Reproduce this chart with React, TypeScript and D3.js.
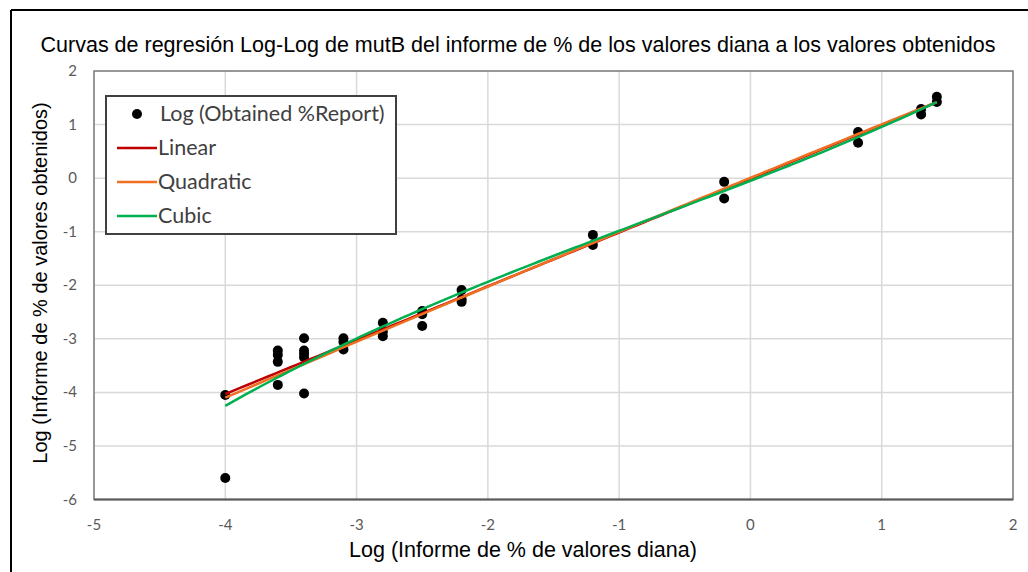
import React from "react";
import * as d3 from "d3";

const title = "Curvas de regresión Log-Log de mutB del informe de % de los valores diana a los valores obtenidos";
const xTitle = "Log (Informe de % de valores diana)";
const yTitle = "Log (Informe de % de valores obtenidos)";

const xTicks = [-5, -4, -3, -2, -1, 0, 1, 2];
const yTicks = [2, 1, 0, -1, -2, -3, -4, -5, -6];

const obsX = [
  -4, -4,
  -3.6, -3.6, -3.6, -3.6,
  -3.4, -3.4, -3.4, -3.4, -3.4,
  -3.1, -3.1, -3.1,
  -2.8, -2.8, -2.8,
  -2.5, -2.5, -2.5,
  -2.2, -2.2, -2.2,
  -1.2, -1.2,
  -0.2, -0.2,
  0.82, 0.82,
  1.3, 1.3,
  1.42, 1.42,
];
const obsY = [
  -4.05, -5.6,
  -3.22, -3.3, -3.43, -3.86,
  -2.99, -3.22, -3.28, -3.35, -4.02,
  -2.99, -3.06, -3.2,
  -2.7, -2.87, -2.95,
  -2.48, -2.54, -2.76,
  -2.09, -2.26, -2.31,
  -1.06, -1.25,
  -0.07, -0.38,
  0.86, 0.66,
  1.29, 1.19,
  1.52, 1.42,
];

// Fitted curves (polynomial coefficients c0 + c1 x + c2 x^2 + c3 x^3)
const seriesNames = ["Linear", "Quadratic", "Cubic"];
const linearCoef = [-0.01, 1.005];
const quadraticCoef = [0.005, 1.004, -0.0055];
const cubicCoef = [-0.05, 0.955, 0.0358, 0.0149];
const seriesColors = ["#c00000", "#f07022", "#00b050"];
const fitRange = [-4, 1.42];

export default function App() {
  const W = 1028, H = 572;
  const left = 94, right = 1013, top = 71, bottom = 499.5;
  const x = d3.scaleLinear().domain([-5, 2]).range([left, right]);
  const y = d3.scaleLinear().domain([-6, 2]).range([bottom, top]);

  const samples = d3.range(0, 101).map((i) => fitRange[0] + ((fitRange[1] - fitRange[0]) * i) / 100);
  const line = d3.line<[number, number]>().x((d) => x(d[0])).y((d) => y(d[1]));

  const curves = [linearCoef, quadraticCoef, cubicCoef].map((c) =>
    samples.map((sx) => [sx, c.reduce((s, ci, i) => s + ci * Math.pow(sx, i), 0)] as [number, number])
  );

  const tickFont = "Lato, 'Open Sans', sans-serif";
  const armFont = "'Liberation Sans', Arial, sans-serif";

  return (
    <svg width={W} height={H} style={{ position: "absolute", left: 0, top: 0, background: "#fff" }}>
      <rect x={0} y={0} width={W} height={H} fill="#fff" />
      <line x1={11} y1={10} x2={W} y2={10} stroke="#000" strokeWidth={2} />
      <line x1={11} y1={10} x2={11} y2={H} stroke="#000" strokeWidth={2} />

      <text x={518} y={52} textAnchor="middle" fontFamily={armFont} fontSize={21.5} fill="#000">
        {title}
      </text>

      {xTicks.map((t) => (
        <line key={"gx" + t} x1={x(t)} x2={x(t)} y1={top} y2={bottom} stroke="#d9d9d9" strokeWidth={1.5} />
      ))}
      {yTicks.map((t) => (
        <line key={"gy" + t} x1={left} x2={right} y1={y(t)} y2={y(t)} stroke="#d9d9d9" strokeWidth={1.5} />
      ))}
      <rect x={left} y={top} width={right - left} height={bottom - top} fill="none" stroke="#7f7f7f" strokeWidth={1.5} />
      <line x1={left} x2={right} y1={bottom} y2={bottom} stroke="#595959" strokeWidth={2} />

      {xTicks.map((t) => (
        <text key={"tx" + t} x={x(t)} y={530} textAnchor="middle" fontFamily={tickFont} fontSize={15} fill="#595959">
          {t}
        </text>
      ))}
      {yTicks.map((t) => (
        <text key={"ty" + t} x={77} y={y(t) + 5} textAnchor="end" fontFamily={tickFont} fontSize={15} fill="#595959">
          {t}
        </text>
      ))}

      <text x={523} y={557} textAnchor="middle" fontFamily={armFont} fontSize={21.5} fill="#000">
        {xTitle}
      </text>
      <text
        transform={`translate(47, ${283}) rotate(-90)`}
        textAnchor="middle"
        fontFamily={armFont}
        fontSize={20}
        fill="#000"
      >
        {yTitle}
      </text>

      {obsX.map((vx, i) => (
        <circle key={"p" + i} cx={x(vx)} cy={y(obsY[i])} r={5} fill="#000" />
      ))}

      {curves.map((pts, i) => (
        <path key={"c" + i} d={line(pts) || ""} fill="none" stroke={seriesColors[i]} strokeWidth={2.5} />
      ))}

      <g>
        <rect x={106} y={96} width={290} height={138} fill="#fff" stroke="#404040" strokeWidth={2} />
        <circle cx={137} cy={114} r={5} fill="#000" />
        <text x={160} y={121} fontFamily={tickFont} fontSize={21.5} fill="#404040">
          Log (Obtained %Report)
        </text>
        {seriesNames.map((nm, i) => (
          <g key={"lg" + nm}>
            <line x1={117} x2={157} y1={148 + i * 34} y2={148 + i * 34} stroke={seriesColors[i]} strokeWidth={2.5} />
            <text x={158} y={155 + i * 34} fontFamily={tickFont} fontSize={21.5} fill="#404040">
              {nm}
            </text>
          </g>
        ))}
      </g>
    </svg>
  );
}
